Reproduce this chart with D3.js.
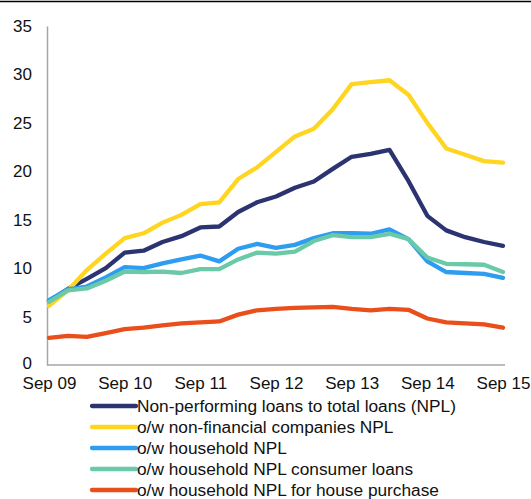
<!DOCTYPE html>
<html><head><meta charset="utf-8">
<script src="https://cdn.jsdelivr.net/npm/d3@7"></script>
<style>
body{margin:0;background:#fff;}
svg{display:block;font-family:"Liberation Sans",Arial,sans-serif;}
</style></head>
<body><svg id="c" width="531" height="499"></svg>
<script>
const quarters = ["Sep 09","Dec 09","Mar 10","Jun 10","Sep 10","Dec 10","Mar 11","Jun 11","Sep 11","Dec 11","Mar 12","Jun 12","Sep 12","Dec 12","Mar 13","Jun 13","Sep 13","Dec 13","Mar 14","Jun 14","Sep 14","Dec 14","Mar 15","Jun 15","Sep 15"];
const tickLabels = ["Sep 09","Sep 10","Sep 11","Sep 12","Sep 13","Sep 14","Sep 15"];
const yTicks = [0,5,10,15,20,25,30,35];
const seriesNames = ["Non-performing loans to total loans (NPL)","o/w non-financial companies NPL","o/w household NPL","o/w household NPL consumer loans","o/w household NPL for house purchase"];
const seriesColors = ["#2B3370","#FFD520","#2E9CF0","#6AC9A6","#E94E1B"];
const npl = [6.6,7.85,8.9,10.0,11.6,11.8,12.7,13.3,14.2,14.3,15.8,16.8,17.4,18.3,18.95,20.25,21.5,21.8,22.2,19.0,15.4,13.9,13.2,12.7,12.3];
const nfc = [6.1,7.7,9.8,11.5,13.1,13.6,14.7,15.5,16.6,16.8,19.2,20.4,22.0,23.6,24.4,26.4,29.0,29.2,29.4,27.9,25.0,22.35,21.7,21.05,20.9];
const household = [6.7,7.8,8.1,9.05,10.1,10.0,10.5,10.9,11.3,10.7,12.0,12.5,12.1,12.4,13.1,13.6,13.6,13.55,14.0,13.0,10.7,9.6,9.5,9.4,9.0];
const consumer = [6.5,7.7,7.9,8.7,9.65,9.6,9.65,9.5,9.9,9.9,10.9,11.6,11.5,11.7,12.8,13.4,13.2,13.2,13.55,13.0,11.1,10.45,10.4,10.35,9.6];
const housePurchase = [2.8,3.0,2.9,3.3,3.7,3.85,4.1,4.3,4.4,4.5,5.2,5.65,5.8,5.9,5.95,6.0,5.8,5.65,5.8,5.7,4.8,4.4,4.3,4.2,3.85];
const allSeries = [npl,nfc,household,consumer,housePurchase];

const svg = d3.select("#c");
const x = d3.scalePoint().domain(quarters).range([49,503]);
const y = d3.scaleLinear().domain([0,35]).range([365,26]);

// top border
svg.append("line").attr("x1",0).attr("x2",531).attr("y1",1.5).attr("y2",1.5).attr("stroke","#000").attr("stroke-width",1.6);

// y axis
const yAxis = svg.append("g").attr("transform","translate(47,0)")
  .call(d3.axisLeft(y).tickValues(yTicks).tickSize(0).tickPadding(15));
yAxis.select(".domain").attr("stroke","#A6A6A6").attr("stroke-width",1.5);
yAxis.selectAll("text").attr("font-size",17).attr("fill","#111").attr("font-family","Liberation Sans, Arial, sans-serif");
yAxis.selectAll(".tick").filter(d=>d===0).select("text").attr("dy","0.2em");

// x axis
const xAxis = svg.append("g").attr("transform","translate(0,365)")
  .call(d3.axisBottom(x).tickValues(tickLabels).tickSize(0).tickPadding(12));
xAxis.select(".domain").attr("d","M47,0H505").attr("stroke","#A6A6A6").attr("stroke-width",1.5);
xAxis.selectAll("text").attr("font-size",17).attr("fill","#111").attr("font-family","Liberation Sans, Arial, sans-serif");

const line = d3.line().x((d,i)=>x(quarters[i])).y(d=>y(d));
allSeries.forEach((s,k)=>{
  svg.append("path").datum(s).attr("d",line).attr("fill","none")
    .attr("stroke",seriesColors[k]).attr("stroke-width",4.3)
    .attr("stroke-linejoin","round").attr("stroke-linecap","round");
});

// legend
const leg = svg.append("g");
seriesNames.forEach((n,k)=>{
  const cy = 406 + k*21;
  leg.append("line").attr("x1",92).attr("x2",136).attr("y1",cy).attr("y2",cy)
    .attr("stroke",seriesColors[k]).attr("stroke-width",4.3).attr("stroke-linecap","round");
  leg.append("text").attr("x",137).attr("y",cy).attr("dy","0.35em")
    .attr("font-size",17.3).attr("fill","#111").text(n);
});
</script></body></html>
